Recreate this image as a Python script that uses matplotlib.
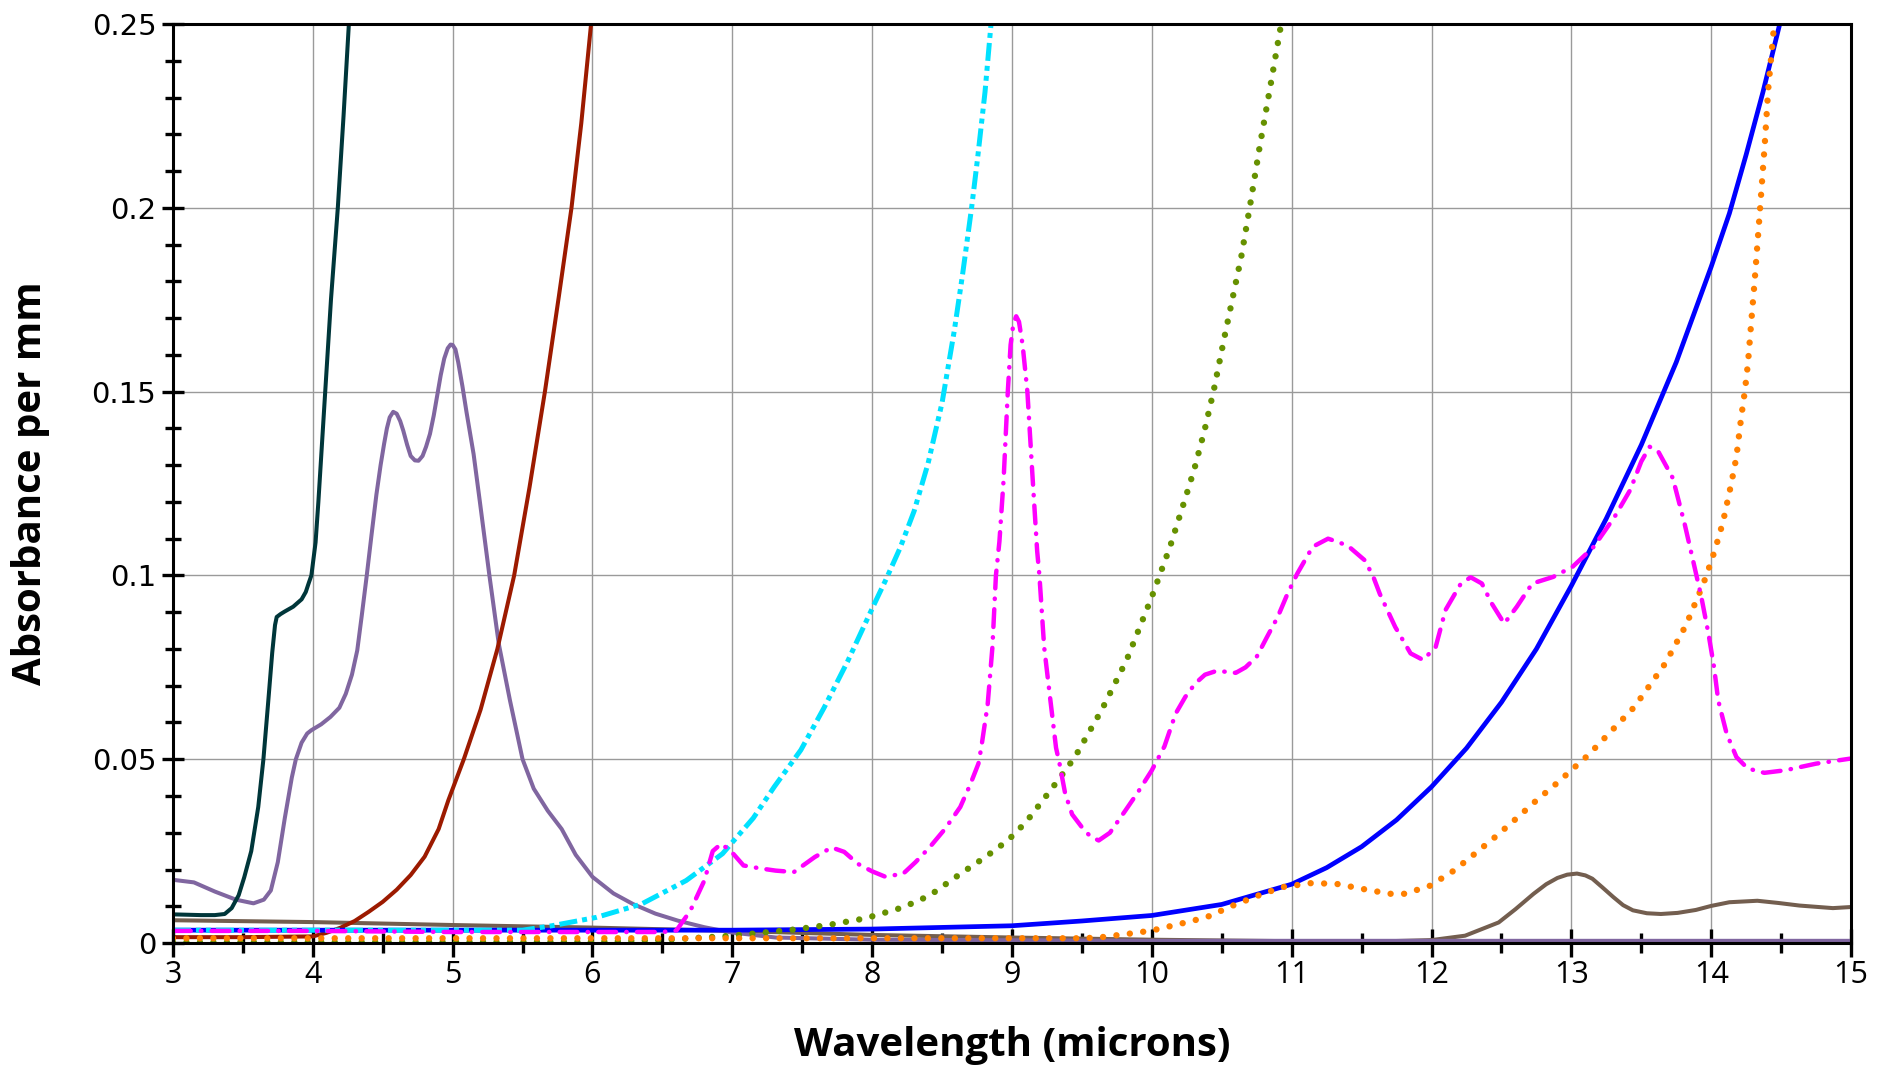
import matplotlib
matplotlib.use("Agg")
import matplotlib.pyplot as plt
from matplotlib.ticker import MultipleLocator, FuncFormatter

# absorbance per mm vs wavelength (microns)
teal_x = [3.0, 3.2, 3.3, 3.37, 3.42, 3.47, 3.51, 3.56, 3.61, 3.647, 3.68, 3.71, 3.73, 3.742,
          3.77, 3.8, 3.86, 3.92, 3.95, 3.97, 3.99, 4.02, 4.04, 4.085, 4.13, 4.179, 4.22,
          4.258, 4.265]
teal_y = [0.0078, 0.0076, 0.0076, 0.0079, 0.0095, 0.013, 0.0179, 0.025, 0.037, 0.05, 0.065,
          0.079, 0.0865, 0.0887, 0.0895, 0.0902, 0.0915, 0.0935, 0.0955, 0.0978, 0.1, 0.109,
          0.12, 0.1476, 0.175, 0.2, 0.225, 0.25, 0.255]

purple_x = [3.0, 3.15, 3.3, 3.45, 3.576, 3.65, 3.7, 3.75, 3.8, 3.85, 3.879, 3.92, 3.96,
            3.99, 4.06, 4.126, 4.19, 4.236, 4.28, 4.318, 4.35, 4.386, 4.42, 4.455, 4.485,
            4.51, 4.53, 4.55, 4.575, 4.6, 4.625, 4.647, 4.675, 4.7, 4.73, 4.756, 4.785,
            4.81, 4.838, 4.865, 4.89, 4.915, 4.94, 4.965, 4.985, 5.0, 5.02, 5.04, 5.07,
            5.099, 5.15, 5.195, 5.263, 5.33, 5.41, 5.5, 5.58, 5.68, 5.78, 5.88, 6.0, 6.15,
            6.29, 6.45, 6.61, 6.8, 6.99, 7.31, 8.0, 10.0, 15.0]
purple_y = [0.0172, 0.0165, 0.014, 0.0118, 0.0108, 0.0118, 0.0143, 0.022, 0.034, 0.045,
            0.05, 0.0545, 0.057, 0.0579, 0.0595, 0.0615, 0.064, 0.0678, 0.073, 0.0796,
            0.089, 0.1, 0.111, 0.122, 0.13, 0.1358, 0.14, 0.143, 0.1445, 0.144, 0.142,
            0.1394, 0.1355, 0.1325, 0.1313, 0.1312, 0.1325, 0.135, 0.1385, 0.1435, 0.149,
            0.1545, 0.159, 0.1618, 0.1628, 0.1627, 0.1615, 0.158, 0.1515, 0.1445, 0.133,
            0.12, 0.1, 0.0814, 0.066, 0.05, 0.042, 0.036, 0.031, 0.024, 0.018, 0.0135,
            0.0106, 0.008, 0.0061, 0.0043, 0.0029, 0.0015, 0.0009, 0.0006, 0.0006]

red_x = [3.0, 3.5, 4.0, 4.1, 4.2, 4.3, 4.4, 4.5, 4.6, 4.7, 4.8, 4.9, 4.97, 5.08, 5.2, 5.32,
         5.44, 5.55, 5.66, 5.76, 5.85, 5.92, 5.99, 6.01]
red_y = [0.0016, 0.0016, 0.0018, 0.0028, 0.0042, 0.006, 0.0085, 0.0112, 0.0145, 0.0185,
         0.0235, 0.031, 0.0389, 0.05, 0.0635, 0.08, 0.1, 0.124, 0.15, 0.176, 0.2, 0.223,
         0.25, 0.256]

brown_x = [3.0, 4.0, 5.0, 6.0, 7.0, 8.0, 9.0, 10.0, 11.0, 11.5, 12.0, 12.24, 12.48, 12.6,
           12.73, 12.82, 12.9, 12.97, 13.04, 13.1, 13.15, 13.22, 13.3, 13.37, 13.44, 13.54,
           13.64, 13.76, 13.89, 14.0, 14.13, 14.33, 14.48, 14.63, 14.87, 15.0]
brown_y = [0.0062, 0.0057, 0.0049, 0.0042, 0.0033, 0.0022, 0.0015, 0.0009, 0.0005, 0.0003,
           0.0008, 0.002, 0.0056, 0.0092, 0.0134, 0.016, 0.0177, 0.0186, 0.0189, 0.0184,
           0.0175, 0.0152, 0.0125, 0.0103, 0.0089, 0.0081, 0.0079, 0.0082, 0.009, 0.0101,
           0.0111, 0.0115, 0.0109, 0.0102, 0.0095, 0.0098]

cyan_x = [3.0, 5.5, 5.71, 6.03, 6.35, 6.67, 6.93, 7.15, 7.3, 7.49, 7.656, 7.823, 8.0, 8.1,
          8.2, 8.3, 8.4, 8.5, 8.587, 8.647, 8.711, 8.754, 8.807, 8.85, 8.87]
cyan_y = [0.0035, 0.0035, 0.0047, 0.007, 0.0106, 0.017, 0.0243, 0.034, 0.0425, 0.0525,
          0.064, 0.0765, 0.091, 0.099, 0.1075, 0.1175, 0.1305, 0.147, 0.1665, 0.182, 0.2,
          0.2135, 0.2315, 0.25, 0.26]

magenta_x = [3.0, 4.0, 5.0, 6.0, 6.5, 6.6, 6.7, 6.8, 6.86, 6.92, 6.99, 7.08, 7.2, 7.31,
             7.44, 7.59, 7.71, 7.8, 7.9, 8.0, 8.09, 8.22, 8.31, 8.41, 8.52, 8.63, 8.7, 8.76,
             8.78, 8.826, 8.86, 8.885, 8.91, 8.94, 8.97, 8.99, 9.01, 9.03, 9.05, 9.076,
             9.11, 9.148, 9.18, 9.196, 9.23, 9.27, 9.315, 9.34, 9.38, 9.43, 9.5, 9.56, 9.62,
             9.7, 9.81, 9.9, 10.0, 10.09, 10.17, 10.24, 10.31, 10.38, 10.46, 10.53, 10.6,
             10.67, 10.75, 10.82, 10.9, 10.97, 11.04, 11.15, 11.26, 11.34, 11.41, 11.52,
             11.58, 11.63, 11.74, 11.85, 11.94, 12.03, 12.1, 12.21, 12.28, 12.36, 12.43,
             12.52, 12.61, 12.72, 12.87, 13.01, 13.16, 13.31, 13.42, 13.5, 13.56, 13.62,
             13.725, 13.81, 13.88, 13.93, 13.98, 14.02, 14.05, 14.11, 14.18, 14.26, 14.38,
             14.53, 14.75, 15.0]
magenta_y = [0.0033, 0.0033, 0.003, 0.003, 0.003, 0.0034, 0.0088, 0.017, 0.025, 0.027,
             0.025, 0.0211, 0.0203, 0.0197, 0.0193, 0.0234, 0.026, 0.0248, 0.0215, 0.0195,
             0.0181, 0.0188, 0.022, 0.026, 0.031, 0.037, 0.043, 0.0488, 0.0531, 0.0649,
             0.0805, 0.1, 0.1092, 0.1261, 0.15, 0.1627, 0.1685, 0.1705, 0.169, 0.1627, 0.15,
             0.1261, 0.1066, 0.1, 0.0805, 0.0675, 0.0531, 0.0488, 0.0407, 0.035, 0.0315,
             0.029, 0.0279, 0.03, 0.036, 0.041, 0.047, 0.0535, 0.0624, 0.067, 0.0706, 0.073,
             0.074, 0.0738, 0.0735, 0.075, 0.0779, 0.083, 0.0887, 0.095, 0.1005, 0.1078,
             0.11, 0.109, 0.1078, 0.1042, 0.1, 0.095, 0.086, 0.0788, 0.077, 0.0806, 0.0906,
             0.0978, 0.0995, 0.0978, 0.0924, 0.0869, 0.0915, 0.0978, 0.0996, 0.1024, 0.1078,
             0.116, 0.1232, 0.131, 0.135, 0.1338, 0.1265, 0.114, 0.1024, 0.094, 0.0842,
             0.0751, 0.066, 0.057, 0.0506, 0.0475, 0.0463, 0.047, 0.0488, 0.0502]

olive_x = [3.0, 6.0, 6.5, 7.0, 7.45, 7.7, 7.95, 8.22, 8.41, 8.63, 8.81, 8.97, 9.1, 9.22,
           9.33, 9.45, 9.64, 9.82, 10.0, 10.13, 10.246, 10.305, 10.377, 10.444, 10.52,
           10.58, 10.64, 10.706, 10.77, 10.854, 10.92, 10.935]
olive_y = [0.0002, 0.0003, 0.0008, 0.002, 0.0037, 0.005, 0.0067, 0.0097, 0.0129, 0.0188,
           0.0234, 0.0279, 0.0329, 0.0388, 0.0443, 0.0506, 0.0633, 0.077, 0.0942, 0.1078,
           0.1218, 0.1291, 0.1395, 0.1506, 0.165, 0.1759, 0.1868, 0.2015, 0.2164, 0.2345,
           0.249, 0.255]

blue_x = [3.0, 5.0, 7.0, 8.0, 9.0, 9.5, 10.0, 10.5, 11.0, 11.25, 11.5, 11.75, 12.0, 12.25,
          12.5, 12.75, 13.0, 13.25, 13.5, 13.75, 14.0, 14.13, 14.25, 14.37, 14.49, 14.51]
blue_y = [0.0035, 0.0035, 0.0035, 0.0038, 0.0047, 0.006, 0.0075, 0.0105, 0.016, 0.0205,
          0.0262, 0.0335, 0.0425, 0.053, 0.0655, 0.08, 0.0972, 0.1155, 0.1355, 0.158,
          0.184, 0.1985, 0.2145, 0.2315, 0.25, 0.2535]

orange_x = [3.0, 9.5, 9.62, 9.85, 10.0, 10.2, 10.39, 10.58, 10.76, 10.93, 11.14, 11.32,
            11.51, 11.7, 11.81, 11.99, 12.16, 12.31, 12.46, 12.61, 12.75, 12.9, 13.04,
            13.12, 13.45, 13.67, 13.82, 13.93, 13.964, 14.024, 14.084, 14.143, 14.18,
            14.215, 14.24, 14.263, 14.287, 14.311, 14.347, 14.383, 14.407, 14.443, 14.46]
orange_y = [0.0013, 0.0013, 0.0015, 0.0026, 0.0034, 0.0052, 0.007, 0.0102, 0.0129, 0.0152,
            0.0163, 0.0161, 0.0147, 0.0134, 0.0134, 0.0156, 0.0197, 0.0243, 0.029, 0.034,
            0.0388, 0.0436, 0.0484, 0.0511, 0.0642, 0.076, 0.0865, 0.0965, 0.0998, 0.1066,
            0.1145, 0.1249, 0.1322, 0.1432, 0.15, 0.1578, 0.1693, 0.1803, 0.1986, 0.2174,
            0.232, 0.2469, 0.255]

fig = plt.figure(figsize=(18.9, 10.78), dpi=100)
ax = fig.add_axes([0.0915, 0.1252, 0.8879, 0.8525])

# solid curves
ax.plot(brown_x, brown_y, color="#735E4F", lw=2.9, zorder=3)
ax.plot(purple_x, purple_y, color="#8066A0", lw=2.9, zorder=3)
ax.plot(teal_x, teal_y, color="#00363A", lw=2.9, zorder=3)
ax.plot(red_x, red_y, color="#9C1A00", lw=2.9, zorder=3)
ax.plot(blue_x, blue_y, color="#0000FF", lw=3.4, zorder=4)

# dotted curves
ax.plot(olive_x, olive_y, color="#669100", lw=4.6, linestyle=(0, (0.01, 2.1)),
        dash_capstyle="round", zorder=4)
ax.plot(orange_x, orange_y, color="#FF8000", lw=4.6, linestyle=(0, (0.01, 2.1)),
        dash_capstyle="round", zorder=5)

# dash-dot curves
ax.plot(cyan_x, cyan_y, color="#00E1FF", lw=3.6, linestyle=(0, (3.6, 1, 1, 1, 1, 1)),
        zorder=5)
ax.plot(magenta_x, magenta_y, color="#FF00FF", lw=3.2, linestyle=(0, (4, 2.3, 0.1, 2.3)),
        dash_capstyle="round", zorder=6)

ax.set_xlim(3, 15)
ax.set_ylim(0, 0.25)

ax.xaxis.set_major_locator(MultipleLocator(1))
ax.xaxis.set_minor_locator(MultipleLocator(0.5))
ax.yaxis.set_major_locator(MultipleLocator(0.05))
ax.yaxis.set_minor_locator(MultipleLocator(0.01))
ax.yaxis.set_major_formatter(FuncFormatter(lambda v, p: "%g" % round(v, 3)))

ax.grid(which="major", color="#9A9A9A", lw=1.0, zorder=0)
ax.set_axisbelow(True)

for s in ax.spines.values():
    s.set_color("black")
    s.set_linewidth(2.2)
    s.set_zorder(7)

ax.tick_params(axis="y", which="major", direction="inout", length=16, width=2.4,
               pad=4, labelsize=21)
ax.tick_params(axis="y", which="minor", direction="inout", length=11.5, width=2.4)
ax.tick_params(axis="x", which="major", direction="inout", length=20, width=2.4,
               pad=2, labelsize=22)
ax.tick_params(axis="x", which="minor", direction="inout", length=15, width=2.4)

for lab in ax.get_yticklabels():
    lab.set_family("DejaVu Sans")
for lab in ax.get_xticklabels():
    lab.set_family("Open Sans")

ax.set_xlabel("Wavelength (microns)", fontsize=29, fontweight="bold", family="Open Sans",
              va="top")
ax.set_ylabel("Absorbance per mm", fontsize=29, fontweight="bold", family="Open Sans")
ax.xaxis.set_label_coords(0.5, -0.09)
ax.yaxis.set_label_coords(-0.0733, 0.5)

fig.savefig("out.png", dpi=100)
